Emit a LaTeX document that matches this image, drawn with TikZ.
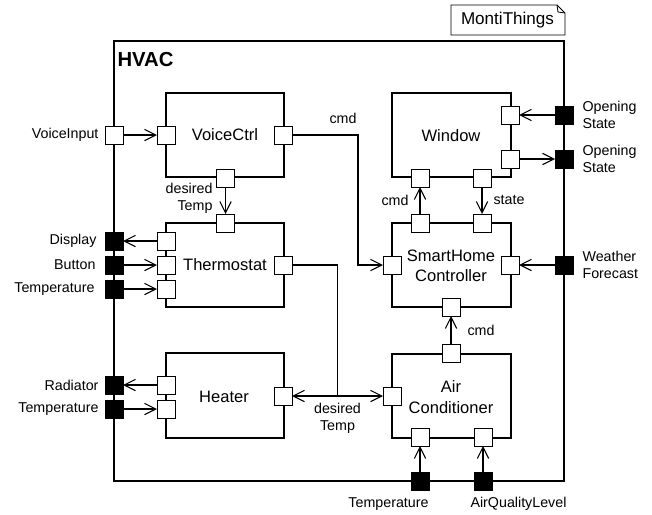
\documentclass[tikz,border=0pt]{standalone}
\usepackage{fontspec}
\setmainfont{Liberation Sans}
\usetikzlibrary{arrows.meta}
\begin{document}
\begin{tikzpicture}[x=0.75pt,y=-0.75pt,
  line width=0.8pt,
  comp/.style={draw,line width=0.8pt},
  port/.style={draw,fill=white,line width=0.6pt,minimum size=13.5pt,inner sep=0pt,outer sep=0pt},
  bport/.style={port,fill=black},
  conn/.style={line width=0.8pt,-{Straight Barb[length=8.5pt,width=8.5pt,line width=0.8pt]}},
  lbl/.style={font=\fontsize{10.7}{12.75}\selectfont,inner sep=0pt,align=left},
  lblr/.style={lbl,align=right},
  lblc/.style={lbl,align=center},
  cname/.style={font=\fontsize{12.4}{15.2}\selectfont,inner sep=0pt,align=center}]
\useasboundingbox (0,0) rectangle (652,514);
% outer
\draw[comp] (114,41) rectangle (564,481);
\node[anchor=west,inner sep=0pt,font=\fontsize{15.2}{18}\bfseries\selectfont] (hvac) at (117,60) {HVAC};
% note
\draw[line width=0.6pt] (451,5) -- (557,5) -- (565,13) -- (565,35) -- (451,35) -- cycle;
\draw[line width=0.6pt] (557,5) -- (558,12) -- (565,13);
\node[font=\fontsize{12.8}{15}\selectfont,inner sep=0pt] (monti) at (507.5,20) {MontiThings};
% components
\draw[comp] (166,93) rectangle (284,177);
\node[cname] (vcname) at (225,135) {VoiceCtrl};
\draw[comp] (166,223) rectangle (284,307);
\node[cname] (thname) at (225,265) {Thermostat};
\draw[comp] (166,353) rectangle (284,438);
\node[cname] (hename) at (224,397) {Heater};
\draw[comp] (392,93) rectangle (511,177);
\node[cname] (wname) at (451,136) {Window};
\draw[comp] (392,223) rectangle (511,307);
\node[cname] (shname) at (451,265.5) {SmartHome\\Controller};
\draw[comp] (392,354) rectangle (511,438);
\node[cname] (acname) at (451,397) {Air\\Conditioner};
% ports
\node[port] (vin) at (114,135) {};
\node[port] (vcL) at (166,135) {};
\node[port] (vcR) at (283,135) {};
\node[port] (vcB) at (225.5,178) {};
\node[port] (thT) at (225.5,223) {};
\node[port] (thL1) at (166,241) {};
\node[port] (thL2) at (166,265) {};
\node[port] (thL3) at (166,289) {};
\node[port] (thR) at (283,265) {};
\node[bport] (bDisp) at (114,241) {};
\node[bport] (bBtn) at (114,265) {};
\node[bport] (bTmp) at (114,289) {};
\node[port] (heL1) at (166,385) {};
\node[port] (heL2) at (166,409) {};
\node[port] (heR) at (283,396) {};
\node[bport] (bRad) at (114,385) {};
\node[bport] (bTmp2) at (114,409) {};
\node[port] (wR1) at (510,115) {};
\node[port] (wR2) at (510,159) {};
\node[port] (wB1) at (420,178) {};
\node[port] (wB2) at (482,178) {};
\node[bport] (bOS1) at (564,115) {};
\node[bport] (bOS2) at (564,159) {};
\node[port] (shT1) at (420,223) {};
\node[port] (shT2) at (482,223) {};
\node[port] (shL) at (392,265) {};
\node[port] (shR) at (510,265) {};
\node[port] (shB) at (451,307) {};
\node[bport] (bWF) at (564,265) {};
\node[port] (acT) at (451,353) {};
\node[port] (acL) at (392,396) {};
\node[port] (acB1) at (420,437) {};
\node[port] (acB2) at (483,437) {};
\node[bport] (bT3) at (420,481) {};
\node[bport] (bAQ) at (483,481) {};
% outer labels
\node[lblr,anchor=east] (lvin) at (99,135) {VoiceInput};
\node[lblr,anchor=east] (ldisp) at (97,241) {Display};
\node[lblr,anchor=east] (lbtn) at (96,265) {Button};
\node[lblr,anchor=east] (ltmp) at (95,289) {Temperature};
\node[lblr,anchor=east] (lrad) at (99,385) {Radiator};
\node[lblr,anchor=east] (ltmp2) at (99,409) {Temperature};
\node[lbl,anchor=west] (los1) at (582,115) {Opening\\State};
\node[lbl,anchor=west] (los2) at (582,159) {Opening\\State};
\node[lbl,anchor=west] (lwf) at (582,265) {Weather\\Forecast};
\node[lblc] (lt3) at (388.5,504) {Temperature};
\node[lblc] (laq) at (518.5,504) {AirQualityLevel};
% connector labels
\node[lbl] (lcmd1) at (343,118) {cmd};
\node[lblr,anchor=east] (ldt1) at (213,198.5) {desired\\Temp};
\node[lblr,anchor=east] (lcmd2) at (409,200) {cmd};
\node[lbl,anchor=west] (lstate) at (493,200) {state};
\node[lbl,anchor=west] (lcmd3) at (467,330) {cmd};
\node[lblc] (ldt2) at (337.5,418) {desired\\Temp};
% connectors
\coordinate (j1) at (358,135);
\coordinate (j2) at (337.5,396);
\draw[conn] (vin) -- (vcL);
\draw[conn] (vcR) -- (j1) |- (shL);
\draw[conn] (vcB) -- (thT);
\draw[conn] (thL1) -- (bDisp);
\draw[conn] (bBtn) -- (thL2);
\draw[conn] (bTmp) -- (thL3);
\draw (thR) -| (j2);
\draw[conn] (j2) -- (heR);
\draw[conn] (j2) -- (acL);
\draw[conn] (heL1) -- (bRad);
\draw[conn] (bTmp2) -- (heL2);
\draw[conn] (bOS1) -- (wR1);
\draw[conn] (wR2) -- (bOS2);
\draw[conn] (shT1) -- (wB1);
\draw[conn] (wB2) -- (shT2);
\draw[conn] (bWF) -- (shR);
\draw[conn] (acT) -- (shB);
\draw[conn] (bT3) -- (acB1);
\draw[conn] (bAQ) -- (acB2);
\end{tikzpicture}
\end{document}
